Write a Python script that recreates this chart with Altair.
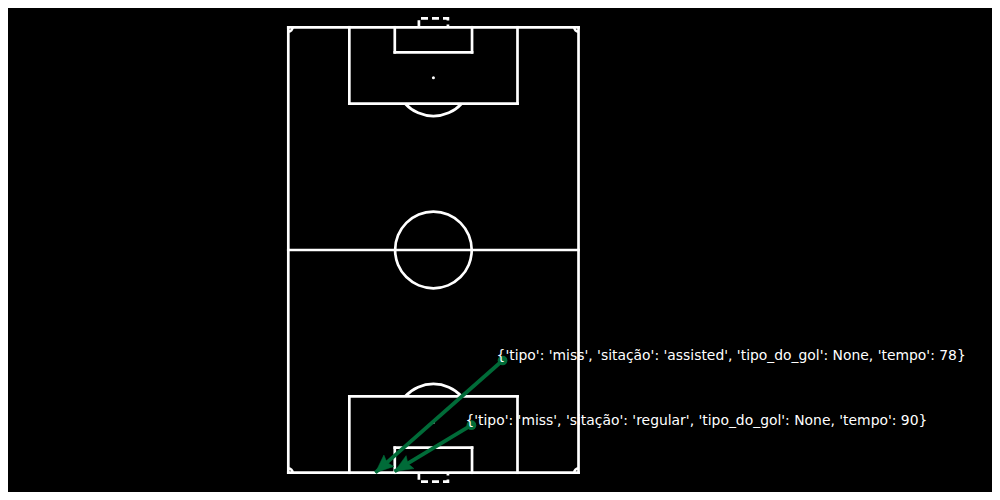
import math
import altair as alt
import pandas as pd

# ---- pitch dimensions (pitch units; x across, y along, bottom goal line at y=0)
PITCH_LENGTH = 105.0
PITCH_WIDTH = 68.0
BOX_DEPTH = 18.0
BOX_WIDTH = 39.4
SIX_DEPTH = 5.9
SIX_WIDTH = 18.1
SPOT_DIST = 11.9
CIRCLE_R = 9.0
GOAL_WIDTH = 6.8
GOAL_DEPTH = 2.1
CORNER_R = 1.0

# ---- shots
shot_x = [50.2, 42.9]
shot_y = [26.45, 11.2]
end_x = [20.4, 24.9]
end_y = [0.0, 0.3]
labels = [
    "{'tipo': 'miss', 'sitação': 'assisted', 'tipo_do_gol': None, 'tempo': 78}",
    "{'tipo': 'miss', 'sitação': 'regular', 'tipo_do_gol': None, 'tempo': 90}",
]

LINE = "white"
GREEN = "#006b38"

# ---- view geometry
W, H = 984, 484
SX = 4.268   # px per unit across
SY = 4.242   # px per unit along
X0 = 280.3   # chart px of x=0
Y0 = 464.7   # chart px of y=0
XDOM = [-X0 / SX, (W - X0) / SX]
YDOM = [-(H - Y0) / SY, Y0 / SY]

xs = alt.Scale(domain=XDOM, nice=False, zero=False)
ys = alt.Scale(domain=YDOM, nice=False, zero=False)

L, Wd = PITCH_LENGTH, PITCH_WIDTH
cx = Wd / 2
segs = [
    (0, 0, Wd, 0), (0, L, Wd, L), (0, 0, 0, L), (Wd, 0, Wd, L),
    (0, L / 2, Wd, L / 2),
]
for gy, s in [(0, 1), (L, -1)]:
    bx0, bx1 = cx - BOX_WIDTH / 2, cx + BOX_WIDTH / 2
    by = gy + s * BOX_DEPTH
    segs += [(bx0, gy, bx0, by), (bx1, gy, bx1, by), (bx0, by, bx1, by)]
    sx0, sx1 = cx - SIX_WIDTH / 2, cx + SIX_WIDTH / 2
    sy = gy + s * SIX_DEPTH
    segs += [(sx0, gy, sx0, sy), (sx1, gy, sx1, sy), (sx0, sy, sx1, sy)]
seg_df = pd.DataFrame(segs, columns=["x", "y", "x2", "y2"])

lines = alt.Chart(seg_df).mark_rule(color=LINE, strokeWidth=2.7, strokeCap="square").encode(
    x=alt.X("x:Q", scale=xs, axis=None),
    y=alt.Y("y:Q", scale=ys, axis=None),
    x2="x2:Q", y2="y2:Q",
)

# goals (dashed)
goal_rows = []
for gid, (gy, s) in enumerate([(0, -1), (L, 1)]):
    gx0, gx1 = cx - GOAL_WIDTH / 2, cx + GOAL_WIDTH / 2
    pts = [(gx0, gy), (gx0, gy + s * GOAL_DEPTH), (gx1, gy + s * GOAL_DEPTH), (gx1, gy)]
    for i, (px, py) in enumerate(pts):
        goal_rows.append({"g": gid, "o": i, "x": px, "y": py})
goals = alt.Chart(pd.DataFrame(goal_rows)).mark_line(
    color=LINE, strokeWidth=2.7, strokeDash=[7, 4]
).encode(
    x=alt.X("x:Q", scale=xs, axis=None),
    y=alt.Y("y:Q", scale=ys, axis=None),
    detail="g:N", order="o:Q",
)

# arcs: center circle, penalty arcs, corner arcs
half = math.acos((BOX_DEPTH - SPOT_DIST) / CIRCLE_R)
RPX = CIRCLE_R * (SX + SY) / 2
CPX = CORNER_R * (SX + SY) / 2
pi = math.pi
arcs = [
    (cx, L / 2, 0, 2 * pi, RPX),
    (cx, L - SPOT_DIST, pi - half, pi + half, RPX),
    (cx, SPOT_DIST, 2 * pi - half, 2 * pi + half, RPX),
    (0, L, pi / 2, pi, CPX),
    (Wd, L, pi, 1.5 * pi, CPX),
    (0, 0, 0, pi / 2, CPX),
    (Wd, 0, 1.5 * pi, 2 * pi, CPX),
]
arc_df = pd.DataFrame(arcs, columns=["x", "y", "t1", "t2", "r"])
arc_df["ro"] = arc_df["r"] + 1.35
arc_df["ri"] = arc_df["r"] - 1.35
arc_layer = alt.Chart(arc_df).mark_arc(color=LINE).encode(
    x=alt.X("x:Q", scale=xs, axis=None),
    y=alt.Y("y:Q", scale=ys, axis=None),
    theta=alt.Theta("t1:Q", scale=None),
    theta2="t2:Q",
    radius=alt.Radius("ro:Q", scale=None),
    radius2="ri:Q",
)

spot_df = pd.DataFrame({"x": [cx, cx, cx], "y": [SPOT_DIST, L - SPOT_DIST, L / 2], "s": [9, 9, 4]})
spots = alt.Chart(spot_df).mark_circle(color=LINE, opacity=1).encode(
    x=alt.X("x:Q", scale=xs, axis=None),
    y=alt.Y("y:Q", scale=ys, axis=None),
    size=alt.Size("s:Q", scale=None, legend=None),
)

# shots
shots = pd.DataFrame({"x": shot_x, "y": shot_y, "x2": end_x, "y2": end_y, "label": labels})
shots["ang"] = [
    (math.degrees(math.atan2((ex - sx) * SX, (ey - sy) * SY)) + 360) % 360
    for sx, sy, ex, ey in zip(shot_x, shot_y, end_x, end_y)
]

shafts = alt.Chart(shots).mark_rule(color=GREEN, strokeWidth=3.8, opacity=1).encode(
    x=alt.X("x:Q", scale=xs, axis=None),
    y=alt.Y("y:Q", scale=ys, axis=None),
    x2="x2:Q", y2="y2:Q",
)
heads = alt.Chart(shots).mark_point(
    shape="M0,0 L0.42,1 L0,0.86 L-0.42,1 Z", filled=True, fill=GREEN, stroke=GREEN,
    strokeWidth=0.5, opacity=1, size=1300,
).encode(
    x=alt.X("x2:Q", scale=xs, axis=None),
    y=alt.Y("y2:Q", scale=ys, axis=None),
    angle=alt.Angle("ang:Q", scale=None),
)
starts = alt.Chart(shots).mark_circle(color=GREEN, opacity=1, size=95).encode(
    x=alt.X("x:Q", scale=xs, axis=None),
    y=alt.Y("y:Q", scale=ys, axis=None),
)
texts = alt.Chart(shots).mark_text(
    align="left", baseline="alphabetic", dx=-6, font="DejaVu Sans", fontSize=13.9, color="white",
).encode(
    x=alt.X("x:Q", scale=xs, axis=None),
    y=alt.Y("y:Q", scale=ys, axis=None),
    text="label:N",
)

chart = alt.layer(lines, goals, arc_layer, spots, shafts, heads, starts, texts).properties(
    width=W, height=H, padding=0, autosize=alt.AutoSizeParams(type="none"),
).configure(background="black").configure_view(stroke=None)

chart.save("out.html", embed_options={"renderer": "svg", "actions": False})
